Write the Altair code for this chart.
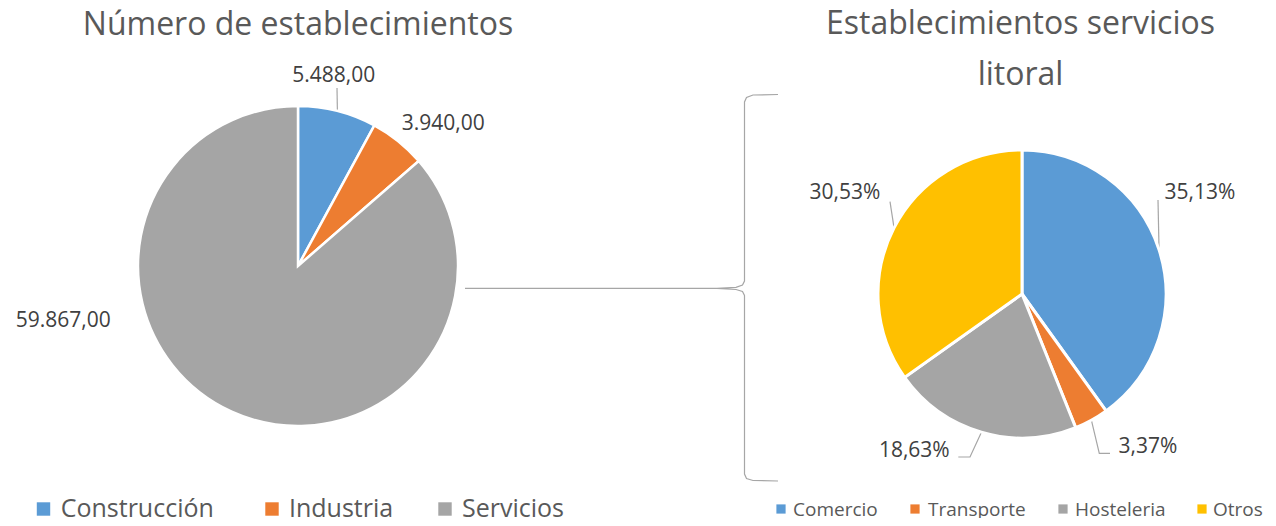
import math
import altair as alt
import pandas as pd

# ---------------- data ----------------
main_cats = ["Construcción", "Industria", "Servicios"]
main_vals = [5488, 3940, 59867]
main_colors = ["#5B9BD5", "#ED7D31", "#A5A5A5"]

serv_cats = ["Comercio", "Transporte", "Hosteleria", "Otros"]
serv_vals = [35.13, 3.37, 18.63, 30.53]
serv_colors = ["#5B9BD5", "#ED7D31", "#A5A5A5", "#FFC000"]

title_left = "Número de establecimientos"
title_right = ["Establecimientos servicios", "litoral"]

# ---------------- layout (page pixels; chart origin is at page 8,8) ----------------
OFF = 8
W, H = 1260, 510
FONT = "Open Sans"
L_CX, L_CY, L_R = 298, 266, 160
R_CX, R_CY, R_R = 1022, 294, 144

# label anchors (center x, baseline y) in page pixels
main_label_pos = [(333.7, 82), (443.3, 130), (63.3, 326.7)]
serv_label_pos = [(1200, 199), (1148, 453), (914.3, 457), (845, 199)]

# leader line fixed points (page pixels); the last point is the slice edge, computed
main_leaders = {0: [(337, 88)]}
serv_leaders = {0: [(1158, 200)], 1: [(1110, 453.3), (1099.3, 453.3)],
                2: [(958.3, 457), (970, 457)], 3: [(890, 201.7)]}

bracket = [(778, 94.5), (753, 95), (746.5, 97.5), (744.5, 102), (744.5, 281),
           (742.5, 285), (736, 287.3), (717, 288.3), (736, 289.5), (742.5, 291.5),
           (744.5, 295.5), (744.5, 474), (746.5, 478.5), (753, 480.5), (778, 481)]
connector = [(465, 288.3), (717, 288.3)]

main_leg_pos = [(43.5, 60.7), (272, 289), (445, 462)]      # square center x, text start x
main_leg_y = (509, 517)                                     # square center y, text baseline
serv_leg_pos = [(781, 793), (915, 928), (1063, 1075), (1202, 1213)]
serv_leg_y = (509, 516)


def fmt_es(v):
    s = f"{v:,.2f}"
    return s.replace(",", "X").replace(".", ",").replace("X", ".")


def edge(cx, cy, r, vals, i):
    tot = sum(vals)
    a = 2 * math.pi * (sum(vals[:i]) + vals[i] / 2) / tot
    return cx + r * math.sin(a), cy - r * math.cos(a)


def P(x, y):
    return x - OFF, y - OFF


# ---------------- tables ----------------
df_main = pd.DataFrame({"cat": main_cats, "n": main_vals, "idx": range(len(main_cats))})
df_serv = pd.DataFrame({"cat2": serv_cats, "pct": serv_vals, "idx": range(len(serv_cats))})

lab_rows = []
for v, (x, y) in zip(main_vals, main_label_pos):
    px, py = P(x, y)
    lab_rows.append({"t": fmt_es(v), "x": px, "y": py})
for v, (x, y) in zip(serv_vals, serv_label_pos):
    px, py = P(x, y)
    lab_rows.append({"t": f"{v:.2f}%".replace(".", ","), "x": px, "y": py})
df_lab = pd.DataFrame(lab_rows)

line_rows = []
def add_path(pid, pts):
    for k, (x, y) in enumerate(pts):
        px, py = P(x, y)
        line_rows.append({"id": pid, "ord": k, "x": px, "y": py})

for i, pts in main_leaders.items():
    add_path(f"m{i}", pts + [edge(L_CX, L_CY, L_R, main_vals, i)])
for i, pts in serv_leaders.items():
    add_path(f"s{i}", pts + [edge(R_CX, R_CY, R_R, serv_vals, i)])
add_path("bracket", bracket)
add_path("conn", connector)
df_lines = pd.DataFrame(line_rows)

df_titles = pd.DataFrame([
    {"t": title_left, "x": 298 - OFF, "y": 35 - OFF},
    {"t": title_right[0], "x": 1020.5 - OFF, "y": 34 - OFF},
    {"t": title_right[1], "x": 1020.5 - OFF, "y": 85 - OFF},
])

df_mleg = pd.DataFrame({"cat": main_cats,
                        "sx": [p[0] - OFF for p in main_leg_pos],
                        "tx": [p[1] - OFF for p in main_leg_pos],
                        "sy": main_leg_y[0] - OFF, "ty": main_leg_y[1] - OFF})
df_sleg = pd.DataFrame({"cat2": serv_cats,
                        "sx": [p[0] - OFF for p in serv_leg_pos],
                        "tx": [p[1] - OFF for p in serv_leg_pos],
                        "sy": serv_leg_y[0] - OFF, "ty": serv_leg_y[1] - OFF})

main_scale = alt.Scale(domain=main_cats, range=main_colors)
serv_scale = alt.Scale(domain=serv_cats, range=serv_colors)

# ---------------- marks ----------------
pie_main = alt.Chart(df_main).mark_arc(radius=L_R, stroke="white", strokeWidth=2.5).encode(
    theta=alt.Theta("n:Q", stack=True),
    order=alt.Order("idx:Q"),
    color=alt.Color("cat:N", scale=main_scale, legend=None),
    x=alt.value(L_CX - OFF), y=alt.value(L_CY - OFF),
)

pie_serv = alt.Chart(df_serv).mark_arc(radius=R_R, stroke="white", strokeWidth=3).encode(
    theta=alt.Theta("pct:Q", stack=True),
    order=alt.Order("idx:Q"),
    color=alt.Color("cat2:N", scale=serv_scale, legend=None),
    x=alt.value(R_CX - OFF), y=alt.value(R_CY - OFF),
)

lines = alt.Chart(df_lines).mark_line(color="#A6A6A6", strokeWidth=1.2).encode(
    x=alt.X("x:Q", scale=None), y=alt.Y("y:Q", scale=None),
    detail="id:N", order="ord:Q",
)

labels = alt.Chart(df_lab).mark_text(font=FONT, fontSize=21, color="#404040",
                                     align="center", baseline="alphabetic").encode(
    x=alt.X("x:Q", scale=None), y=alt.Y("y:Q", scale=None), text="t:N",
)

titles = alt.Chart(df_titles).mark_text(font=FONT, fontSize=32, color="#595959",
                                        align="center", baseline="alphabetic").encode(
    x=alt.X("x:Q", scale=None), y=alt.Y("y:Q", scale=None), text="t:N",
)

mleg_sq = alt.Chart(df_mleg).mark_square(size=180, opacity=1).encode(
    x=alt.X("sx:Q", scale=None), y=alt.Y("sy:Q", scale=None),
    color=alt.Color("cat:N", scale=main_scale, legend=None),
)
mleg_tx = alt.Chart(df_mleg).mark_text(font=FONT, fontSize=25, color="#595959",
                                       align="left", baseline="alphabetic").encode(
    x=alt.X("tx:Q", scale=None), y=alt.Y("ty:Q", scale=None), text="cat:N",
)
sleg_sq = alt.Chart(df_sleg).mark_square(size=85, opacity=1).encode(
    x=alt.X("sx:Q", scale=None), y=alt.Y("sy:Q", scale=None),
    color=alt.Color("cat2:N", scale=serv_scale, legend=None),
)
sleg_tx = alt.Chart(df_sleg).mark_text(font=FONT, fontSize=19, color="#595959",
                                       align="left", baseline="alphabetic").encode(
    x=alt.X("tx:Q", scale=None), y=alt.Y("ty:Q", scale=None), text="cat2:N",
)

chart = alt.layer(
    lines, pie_main, pie_serv, labels, titles, mleg_sq, mleg_tx, sleg_sq, sleg_tx
).resolve_scale(
    theta="independent", color="independent"
).properties(
    width=W, height=H, padding=0, autosize=alt.AutoSizeParams(type="none")
).configure_view(stroke=None)

chart.save("out.html", embed_options={"renderer": "svg", "actions": False})
